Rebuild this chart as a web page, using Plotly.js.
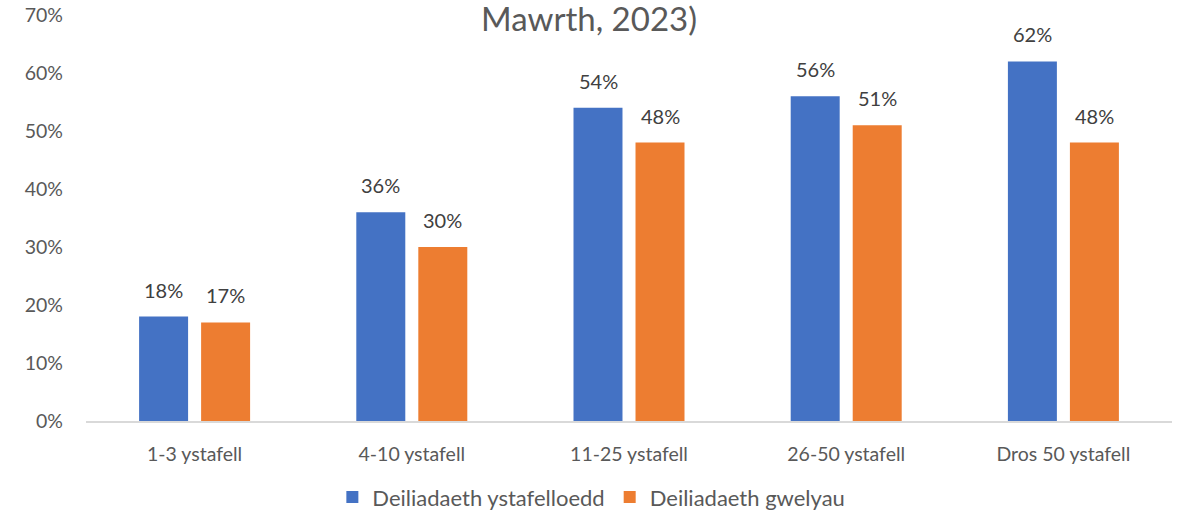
<!DOCTYPE html>
<html><head><meta charset="utf-8">
<script src="https://cdn.plot.ly/plotly-3.0.1.min.js"></script>
<style>html,body{margin:0;padding:0;background:#fff}#chart{width:1178px;height:512px}</style>
</head><body><div id="chart"></div>
<script>
const categories = ["1-3 ystafell", "4-10 ystafell", "11-25 ystafell", "26-50 ystafell", "Dros 50 ystafell"];
const seriesNames = ["Deiliadaeth ystafelloedd", "Deiliadaeth gwelyau"];
const roomOccupancy = [18, 36, 54, 56, 62];
const bedOccupancy = [17, 30, 48, 51, 48];
const yTickValues = [0, 10, 20, 30, 40, 50, 60, 70];
const yTickLabels = ["0%", "10%", "20%", "30%", "40%", "50%", "60%", "70%"];
const titleText = "Mawrth, 2023)";

const FONT = "Lato, 'Noto Sans', sans-serif";
const colors = ["#4472C4", "#ED7D31"];
const series = [roomOccupancy, bedOccupancy];

const traces = series.map((vals, i) => ({
  type: "bar", name: seriesNames[i], x: categories, y: vals,
  marker: {color: colors[i]}, hoverinfo: "none"
}));

const annotations = [];
series.forEach((vals, i) => {
  vals.forEach((v, j) => {
    annotations.push({
      x: categories[j], y: v, xref: "x", yref: "y",
      xshift: i === 0 ? -31 : 31, yshift: 13, yanchor: "bottom",
      text: v + "%", showarrow: false,
      font: {family: FONT, size: 20, color: "#404040"}
    });
  });
});

const layout = {
  width: 1178, height: 512,
  margin: {l: 86, r: 6, t: 15, b: 91, autoexpand: false},
  paper_bgcolor: "#fff", plot_bgcolor: "#fff",
  font: {family: FONT, color: "#595959", size: 19},
  title: {text: titleText, x: 0.5, xanchor: "center", xref: "container",
          y: 0.962, yref: "container", yanchor: "middle",
          font: {family: FONT, size: 33, color: "#595959"}},
  barmode: "group", bargap: 0.429, bargroupgap: 0.21,
  xaxis: {showline: true, linecolor: "#d9d9d9", linewidth: 1.5, showgrid: false,
          ticks: "", ticklabelstandoff: 15, tickfont: {family: FONT, size: 19.5, color: "#595959"}},
  yaxis: {range: [0, 70], tickvals: yTickValues, ticktext: yTickLabels, showgrid: false,
          zeroline: false, showline: false, ticks: "", ticklabelstandoff: 22,
          tickfont: {family: FONT, size: 19.5, color: "#595959"}},
  legend: {orientation: "h", x: 0.502, xref: "container", xanchor: "center",
           y: 0.029, yref: "container", yanchor: "middle",
           font: {family: FONT, size: 22, color: "#595959"}, itemwidth: 30, traceorder: "normal"},
  annotations: annotations,
  showlegend: true
};

Plotly.newPlot("chart", traces, layout, {displayModeBar: false, staticPlot: true});
</script></body></html>
